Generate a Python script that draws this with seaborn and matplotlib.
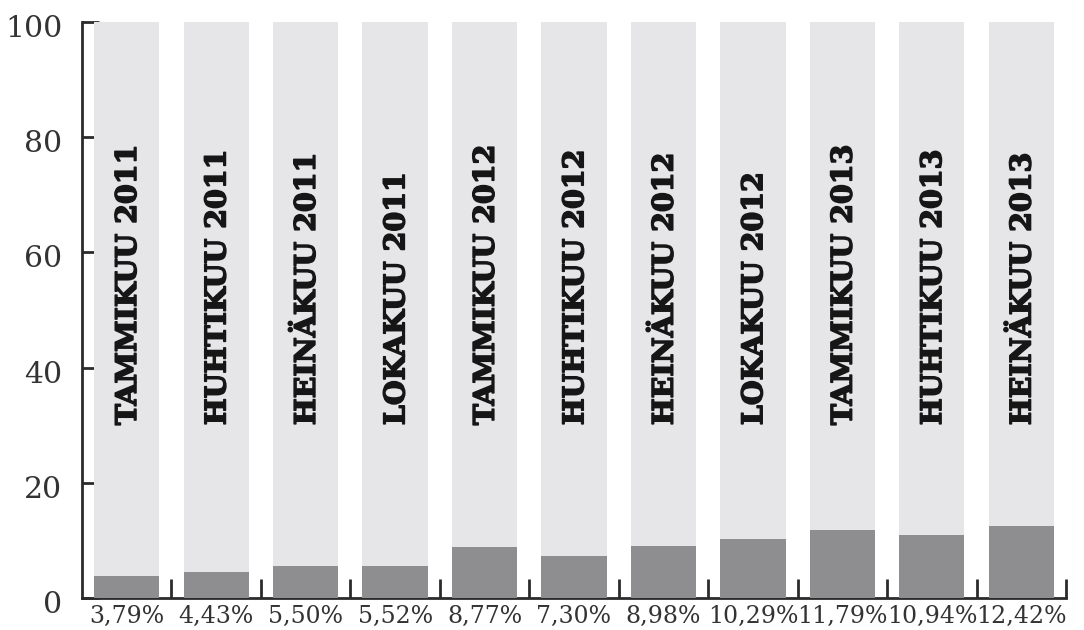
import matplotlib
matplotlib.use("Agg")
import matplotlib.pyplot as plt
import matplotlib.patheffects as pe
import matplotlib.transforms as mtransforms
import seaborn as sns
import pandas as pd
from matplotlib.ticker import FixedLocator

categories = ["TAMMIKUU 2011", "HUHTIKUU 2011", "HEINÄKUU 2011", "LOKAKUU 2011",
              "TAMMIKUU 2012", "HUHTIKUU 2012", "HEINÄKUU 2012", "LOKAKUU 2012",
              "TAMMIKUU 2013", "HUHTIKUU 2013", "HEINÄKUU 2013"]
values = [3.79, 4.43, 5.50, 5.52, 8.77, 7.30, 8.98, 10.29, 11.79, 10.94, 12.42]
totals = [100] * len(categories)
pct_labels = [f"{v:.2f}%".replace(".", ",") for v in values]
y_ticks = [0, 20, 40, 60, 80, 100]

sns.set_theme(style="white")
plt.rcParams["font.family"] = ["DejaVu Serif", "DejaVu Sans"]

df = pd.DataFrame({"cat": categories, "val": values, "tot": totals})

fig = plt.figure(figsize=(10.84, 6.30), dpi=100)
ax = fig.add_axes([82/1084, 32/630, 984/1084, 576/630])

light = "#e6e6e8"
dark = "#8e8e91"
bw = 0.73
sns.barplot(data=df, x="cat", y="tot", color=light, saturation=1, width=bw, ax=ax,
            zorder=3, linewidth=0)
sns.barplot(data=df, x="cat", y="val", color=dark, saturation=1, width=bw, ax=ax,
            zorder=4, linewidth=0)

for i, c in enumerate(categories):
    ax.text(i + 0.02, 30, c, rotation=90, ha="center", va="bottom",
            fontsize=20.5, fontweight="bold", color="#161616", zorder=5,
            family=["DejaVu Serif", "DejaVu Sans"],
            path_effects=[pe.withStroke(linewidth=1.1, foreground="#161616")])

n = len(categories)
ax.set_xlim(-0.5, n - 0.5)
ax.set_ylim(0, 100)
ax.set_xlabel("")
ax.set_ylabel("")

for s in ["top", "right"]:
    ax.spines[s].set_visible(False)
for s in ["left", "bottom"]:
    ax.spines[s].set_color("#2b2b2b")
    ax.spines[s].set_linewidth(2)
ax.spines["bottom"].set_zorder(0.5)

# x: boundary ticks (major, unlabeled), labels on minor ticks at bar centres
ax.xaxis.set_major_locator(FixedLocator([i + 0.5 for i in range(n)]))
ax.set_xticklabels([""] * n)
ax.xaxis.set_minor_locator(FixedLocator(list(range(n))))
ax.set_xticklabels(pct_labels, minor=True)
ax.tick_params(axis="x", which="major", direction="in", length=14, width=2,
               color="#2b2b2b", bottom=True)
ax.tick_params(axis="x", which="minor", direction="in", length=0, pad=5,
               labelsize=17, labelcolor="#333333", bottom=True)

ax.yaxis.set_major_locator(FixedLocator(y_ticks))
ax.set_yticklabels([str(t) for t in y_ticks])
ax.yaxis.set_minor_locator(FixedLocator([100]))
ax.tick_params(axis="y", which="major", direction="in", length=12, width=2,
               color="#2b2b2b", pad=14, labelsize=21.5, labelcolor="#333333", left=True)
ax.tick_params(axis="y", which="minor", direction="in", length=24, width=2,
               color="#2b2b2b", left=True)
shift = mtransforms.ScaledTranslation(0, -4 / 100, fig.dpi_scale_trans)
for lab in ax.get_yticklabels():
    lab.set_transform(lab.get_transform() + shift)
ax.grid(False)

fig.savefig("out.png", dpi=100)
